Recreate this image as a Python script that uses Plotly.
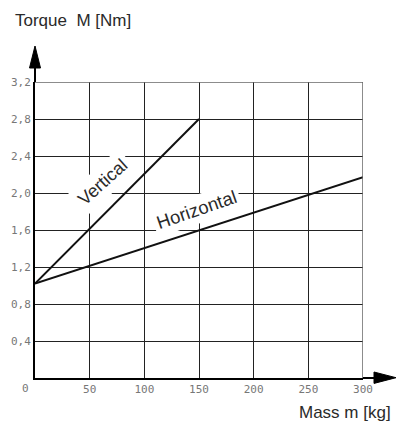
import plotly.graph_objects as go

# ---- data ----
mass_vertical = [0, 150]
torque_vertical = [1.02, 2.8]
mass_horizontal = [0, 300]
torque_horizontal = [1.02, 2.17]

x_tick_vals = [0, 50, 100, 150, 200, 250, 300]
x_tick_text = ["0", "50", "100", "150", "200", "250", "300"]
y_tick_vals = [0.4, 0.8, 1.2, 1.6, 2.0, 2.4, 2.8, 3.2]
y_tick_text = ["0,4", "0,8", "1,2", "1,6", "2,0", "2,4", "2,8", "3,2"]

series_labels = ["Vertical", "Horizontal"]
y_title = "Torque\u00a0\u00a0M [Nm]"
x_title = "Mass m [kg]"

# ---- figure ----
W, H = 398, 424
ML, MR, MT, MB = 35, 35, 82, 46
PW, PH = W - ML - MR, H - MT - MB

def px_x(p):  # pixel -> paper
    return (p - ML) / PW

def px_y(p):
    return (H - MB - p) / PH

fig = go.Figure()
fig.add_trace(go.Scatter(x=mass_vertical, y=torque_vertical, mode="lines",
                         line=dict(color="#111111", width=2), cliponaxis=False,
                         showlegend=False, hoverinfo="skip"))
fig.add_trace(go.Scatter(x=mass_horizontal, y=torque_horizontal, mode="lines",
                         line=dict(color="#111111", width=2), cliponaxis=False,
                         showlegend=False, hoverinfo="skip"))

tick_font = dict(family="DejaVu Sans Mono", size=11, color="#777777")
label_font = dict(family="Liberation Sans, Arial, sans-serif", size=17, color="#2a2a2a")

fig.update_layout(
    width=W, height=H,
    margin=dict(l=ML, r=MR, t=MT, b=MB, pad=0, autoexpand=False),
    paper_bgcolor="white", plot_bgcolor="white",
    xaxis=dict(range=[0, 300], tickmode="array", tickvals=x_tick_vals[1:],
               ticktext=x_tick_text[1:], showgrid=True, gridcolor="#222222",
               gridwidth=1, zeroline=False, showline=True, linecolor="#000000",
               linewidth=2, ticks="", tickfont=tick_font, fixedrange=True,
               automargin=False),
    yaxis=dict(range=[0, 3.2], tickmode="array", tickvals=y_tick_vals,
               ticktext=y_tick_text, showgrid=True, gridcolor="#222222",
               gridwidth=1, zeroline=False, showline=True, linecolor="#000000",
               linewidth=2, ticks="", tickfont=tick_font, fixedrange=True,
               automargin=False),
)

shapes = []
# border lines (top / right)
shapes.append(dict(type="line", xref="x", yref="y", x0=0, x1=300, y0=3.2, y1=3.2,
                   line=dict(color="#666666", width=1.5), layer="above"))
shapes.append(dict(type="line", xref="x", yref="y", x0=300, x1=300, y0=0, y1=3.2,
                   line=dict(color="#666666", width=1.5), layer="above"))
# y axis extension + arrow
shapes.append(dict(type="line", xref="paper", yref="paper", x0=0, x1=0,
                   y0=1, y1=px_y(64), line=dict(color="black", width=2)))
shapes.append(dict(type="path", xref="paper", yref="paper",
                   path=f"M {px_x(29.5)} {px_y(68)} L {px_x(35)} {px_y(46)} L {px_x(40.5)} {px_y(68)} Z",
                   fillcolor="black", line=dict(color="black", width=1)))
# x axis extension + arrow
shapes.append(dict(type="line", xref="paper", yref="paper", x0=1, x1=px_x(378),
                   y0=0, y1=0, line=dict(color="black", width=2)))
shapes.append(dict(type="path", xref="paper", yref="paper",
                   path=f"M {px_x(374)} {px_y(372)} L {px_x(396)} {px_y(377.7)} L {px_x(374)} {px_y(383.4)} Z",
                   fillcolor="black", line=dict(color="black", width=1)))
fig.update_layout(shapes=shapes)

annotations = [
    dict(text=series_labels[0], x=62, y=2.12, xref="x", yref="y", showarrow=False,
         textangle=-42, font=dict(family="Liberation Sans, Arial, sans-serif", size=18, color="#2a2a2a"),
         bgcolor="white", borderpad=4),
    dict(text=series_labels[1], x=148, y=1.82, xref="x", yref="y", showarrow=False,
         textangle=-19, font=dict(family="Liberation Sans, Arial, sans-serif", size=18.5, color="#2a2a2a"),
         bgcolor="white", borderpad=3),
    dict(text=y_title, x=px_x(13), y=px_y(21), xref="paper", yref="paper",
         xanchor="left", yanchor="middle", showarrow=False, font=label_font),
    dict(text=x_title, x=px_x(393), y=px_y(412), xref="paper", yref="paper",
         xanchor="right", yanchor="middle", showarrow=False, font=label_font),
    dict(text=x_tick_text[0], x=px_x(25), y=px_y(389), xref="paper", yref="paper",
         xanchor="center", yanchor="middle", showarrow=False, font=tick_font),
]
fig.update_layout(annotations=annotations)

fig.write_html("out.html", config={"displayModeBar": False, "staticPlot": True},
               post_script="document.body.style.margin='0';document.body.style.overflow='hidden';")
